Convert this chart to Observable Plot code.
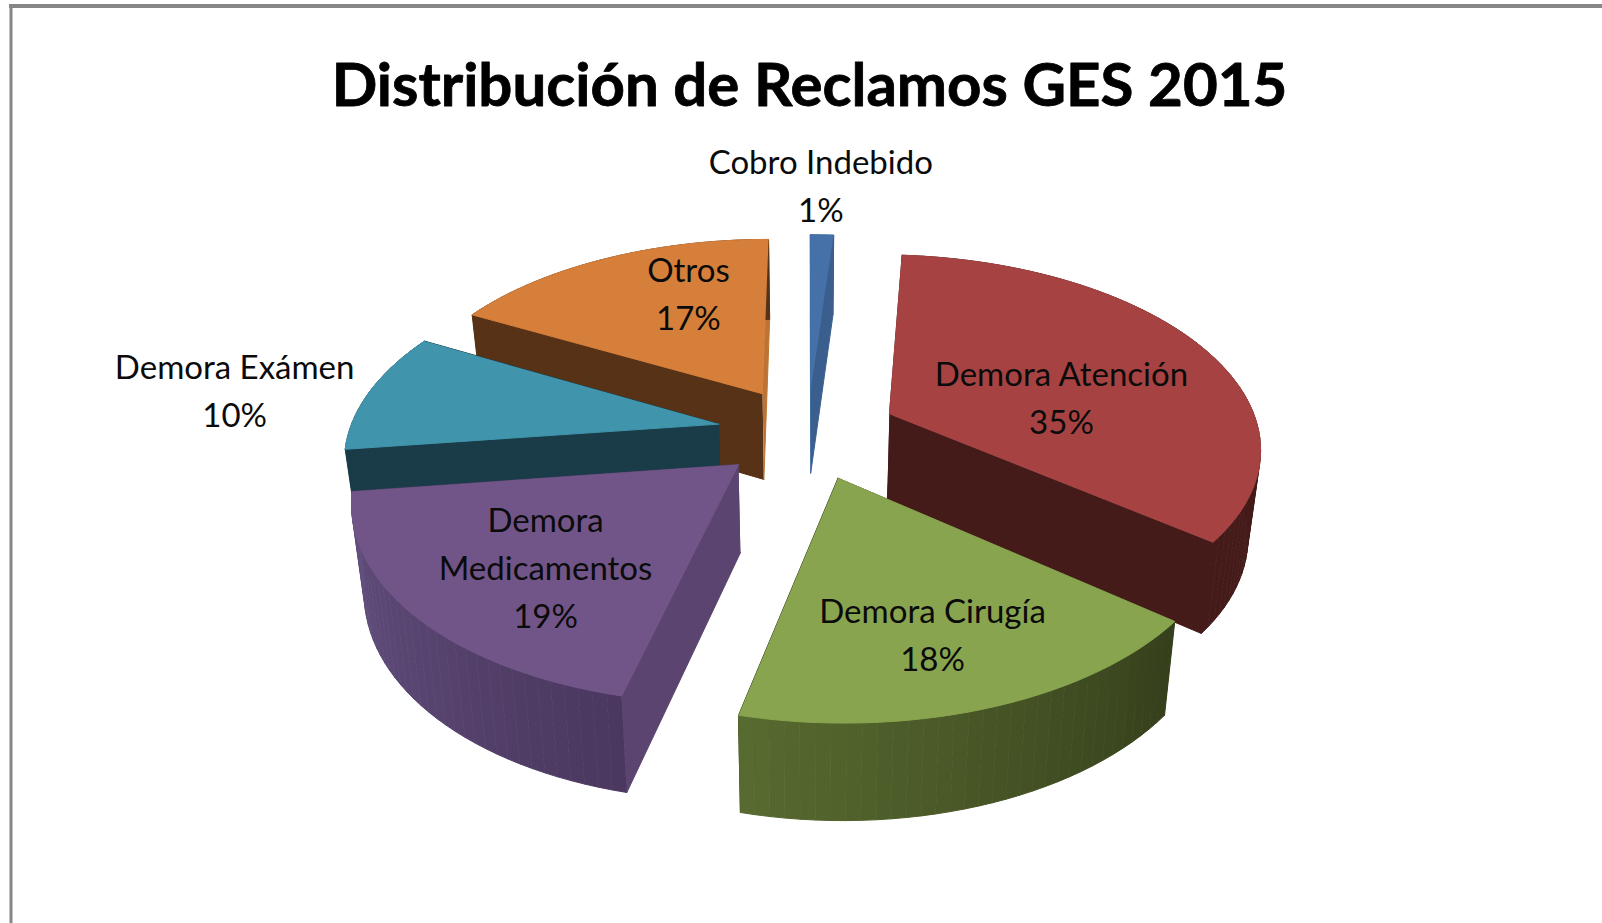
<!DOCTYPE html>
<html lang="es">
<head>
<meta charset="utf-8">
<title>Distribución de Reclamos GES 2015</title>
<script src="https://cdn.jsdelivr.net/npm/d3@7"></script>
<script src="https://cdn.jsdelivr.net/npm/@observablehq/plot@0.6"></script>
<style>
html,body{margin:0;padding:0;background:#fff;overflow:hidden}
svg{display:block}
</style>
</head>
<body>
<div id="chart"></div>
<script>
// --- data (slice sizes estimated; labels show them rounded) ---
const chartTitle = "Distribución de Reclamos GES 2015";
const categories = ["Cobro Indebido", "Demora Atención", "Demora Cirugía", "Demora Medicamentos", "Demora Exámen", "Otros"];
const shares = [1.2, 34.6, 17.9, 19.2, 10, 17.1];
const labelLines = [["Cobro Indebido"], ["Demora Atención"], ["Demora Cirugía"], ["Demora", "Medicamentos"], ["Demora Exámen"], ["Otros"]];

// --- styling ---
const topColors = ["#4571a8", "#a64342", "#88a44e", "#715589", "#4095ad", "#d67f3a"];
const startWall = ["#4571a8", "#451b1a", "#36421c", "#5b4570", "#1a3c48", "#573216"];
const endWall = ["#3a5f8e", "#451b1a", "#36421c", "#5b4570", "#1a3c48", "#bb7434"];
const outerFirst = ["#3a5f8e", "#451b1a", "#36401c", "#4b3860", "#1a3c48", "#573216"];
const outerLast = ["#3a5f8e", "#451b1a", "#576a2f", "#64507f", "#1a3c48", "#573216"];
const paintOrder = [0, 5, 1, 4, 3, 2];
const labelRadius = [1.374, 0.488, 0.717, 0.663, 1.371, 0.649];
const labelAngle = [1.5, 80.3, 163, 223.2, 277.2, 338.5];

// --- 3D pie model: angle clockwise from the back of the disc ---
const W = 1602, H = 923;
const cx = 807, cy = 432, R = 370, ky = 190, persp = 0.158, depth = 87, explode = 0.245, taper = 0.028;
const rad = d => d * Math.PI / 180;
function project(X, Y, z = 0) {
  const s = 1 / (1 - persp * Y);
  return {x: cx + X * R * s * (1 - taper * z), y: cy + Y * ky * s + z * depth * (1 + (s - 1) * 0.5)};
}
const total = d3.sum(shares);
let acc = 0;
const slices = shares.map((v, i) => {
  const a0 = acc / total * 360; acc += v; const a1 = acc / total * 360;
  const mid = (a0 + a1) / 2;
  return {i, a0, a1, mid, ox: explode * Math.sin(rad(mid)), oy: -explode * Math.cos(rad(mid))};
});
const pointOn = (sl, a, r, z = 0) =>
  project(sl.ox + r * Math.sin(rad(a)), sl.oy - r * Math.cos(rad(a)), z);

const rows = [];
function polygon(id, fill, pts) { pts.forEach(p => rows.push({id, fill, x: p.x, y: p.y})); }

for (const i of paintOrder) {
  const sl = slices[i];
  const n = Math.max(2, Math.ceil((sl.a1 - sl.a0) / 2));
  const angles = d3.range(n + 1).map(k => sl.a0 + (sl.a1 - sl.a0) * k / n);
  const apex = pointOn(sl, 0, 0), apexB = pointOn(sl, 0, 0, 1);
  polygon(`s${i}`, startWall[i], [apex, pointOn(sl, sl.a0, 1), pointOn(sl, sl.a0, 1, 1), apexB]);
  polygon(`e${i}`, endWall[i], [apex, pointOn(sl, sl.a1, 1), pointOn(sl, sl.a1, 1, 1), apexB]);
  const mix = d3.interpolateRgb(outerFirst[i], outerLast[i]);
  for (let k = 0; k < n; k++) {
    const a = angles[k], b = angles[k + 1];
    polygon(`o${i}-${k}`, d3.rgb(mix(k / (n - 1 || 1))).formatHex(),
      [pointOn(sl, a, 1), pointOn(sl, b, 1), pointOn(sl, b, 1, 1), pointOn(sl, a, 1, 1)]);
  }
  polygon(`t${i}`, topColors[i], [apex, ...angles.map(a => pointOn(sl, a, 1))]);
}

const labels = slices.map(sl => {
  const p = pointOn(sl, labelAngle[sl.i], labelRadius[sl.i]);
  return {x: p.x, y: p.y, text: [...labelLines[sl.i], `${Math.round(shares[sl.i])}%`].join("\n")};
});

const plot = Plot.plot({
  width: W, height: H, margin: 0,
  x: {domain: [0, W], range: [0, W], axis: null},
  y: {domain: [0, H], range: [0, H], axis: null},
  color: {type: "identity"},
  style: {background: "#fff", fontFamily: "Lato, sans-serif"},
  marks: [
    Plot.ruleY([5.5], {x1: 9, x2: W, stroke: "#868686", strokeWidth: 4}),
    Plot.ruleX([10.5], {y1: 4, y2: H, stroke: "#868686", strokeWidth: 3}),
    Plot.line(rows, {x: "x", y: "y", z: "id", fill: "fill", stroke: "fill", strokeWidth: 1, curve: "linear"}),
    Plot.text(labels, {x: "x", y: "y", dy: -5, text: "text", fontSize: 33, lineHeight: 1.45, lineAnchor: "middle", fill: "#0b0b0b", fontFamily: "Lato, sans-serif"}),
    Plot.text([chartTitle], {x: () => 809, y: () => 86, text: d => d, fontSize: 60, fontWeight: 700, fill: "#000", stroke: "#000", strokeWidth: 0.8, fontFamily: "Lato, sans-serif"})
  ]
});
document.getElementById("chart").append(plot);
</script>
</body>
</html>
